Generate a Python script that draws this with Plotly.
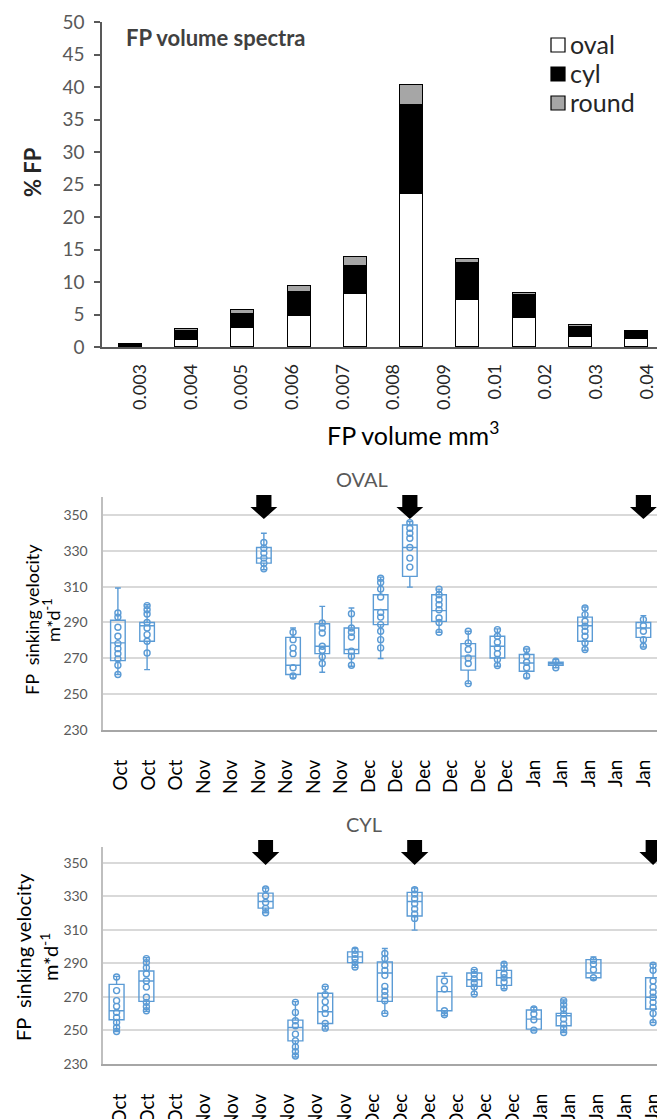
import numpy as np
import plotly.graph_objects as go

# The page puts the plot 8px in from the top-left corner, so the figure is
# made 8px smaller and every target pixel position is shifted by that offset.
OFF = 8
W, H = 665 - OFF, 1119 - OFF
FONT = "Lato"
BLUE = "#5b9bd5"

# ---------------- top chart data ----------------
vol_labels = ["0.003", "0.004", "0.005", "0.006", "0.007", "0.008", "0.009",
              "0.01", "0.02", "0.03", "0.04"]
oval_pct = [0.0, 1.1, 2.9, 4.8, 8.1, 23.6, 7.3, 4.5, 1.5, 1.3]
cyl_pct = [0.5, 1.4, 2.2, 3.6, 4.3, 13.7, 5.7, 3.5, 1.6, 1.1]
round_pct = [0.0, 0.2, 0.6, 1.0, 1.5, 3.0, 0.6, 0.3, 0.3, 0.0]
legend_names = ["oval", "cyl", "round"]
legend_colors = ["white", "black", "#a6a6a6"]

# ---------------- box chart data ----------------
month_labels = ["Oct", "Oct", "Oct", "Nov", "Nov", "Nov", "Nov", "Nov", "Nov",
                "Dec", "Dec", "Dec", "Dec", "Dec", "Dec", "Jan", "Jan", "Jan",
                "Jan", "Jan"]
arrow_pos = [5, 10, 18]

oval_pos = [0, 1, 5, 6, 7, 8, 9, 10, 11, 12, 13, 14, 15, 16, 18]
oval_lo = [261, 263.7, 319.4, 259, 262.2, 265.6, 269.9, 309.7, 284.5, 255.9, 265.6, 259.1, 264.7, 274.5, 276.3]
oval_q1 = [268.7, 279.5, 323.1, 261, 272.6, 272.6, 288.8, 315.7, 290.6, 263.4, 270.2, 262.8, 266.1, 279.5, 281.7]
oval_med = [278.6, 288.2, 325.9, 266.1, 276.7, 274.9, 297.1, 331.8, 296.6, 271.2, 276.7, 267.4, 267.1, 288.2, 286.9]
oval_q3 = [291.2, 290, 331.8, 281.7, 289.3, 286.9, 305.5, 344.4, 305.5, 278.2, 282.3, 272.1, 267.8, 293, 290]
oval_hi = [309.2, 299.9, 339.8, 286.9, 299, 298.1, 315.3, 346.3, 308.6, 285.1, 286.4, 275.2, 269.3, 298.6, 293.8]
oval_points = [
    [295.3, 293, 287.3, 282.3, 278.2, 275.4, 272.6, 269.7, 266.1, 261],
    [299.4, 297.1, 294.7, 290, 286.9, 283.2, 279.5, 273],
    [334.6, 331.4, 328.7, 325.9, 323.1, 319.9],
    [284.5, 280.4, 275.8, 272.6, 264.7, 260.1],
    [289.7, 286.9, 284.1, 276.7, 274.5, 270.8, 267.1],
    [294.9, 286.9, 284.5, 281.9, 274, 271.2, 266.1],
    [314.7, 312.3, 308.6, 304.2, 295.6, 293, 288.8, 285.1, 280.4, 275.8],
    [345.7, 342.6, 339.8, 337, 331.8, 325.9, 320.9],
    [308.6, 305.5, 302.7, 299.9, 297.1, 292.5, 290, 284.5],
    [285.1, 278.6, 274.9, 270.2, 267.1, 255.9],
    [286, 282.3, 279, 275.8, 272.6, 269.3, 266],
    [274.9, 271.2, 267.8, 264.7, 260.1],
    [268.4, 264.7],
    [298.1, 294.4, 290.7, 287.9, 285.1, 282.3, 278.6, 274.9],
    [291.6, 288.2, 285.1, 280.4, 276.7],
]

cyl_pos = [0, 1, 5, 6, 7, 8, 9, 10, 11, 12, 13, 14, 15, 16, 18]
cyl_lo = [249.4, 261.4, 320.3, 234.2, 250.8, 287.5, 260.2, 309.9, 258.8, 271.4, 274.9, 249.8, 248.8, 280.3, 254.8]
cyl_q1 = [256.4, 267.4, 323, 243.8, 254.2, 290.5, 267.4, 318.3, 261.8, 276.3, 276.9, 250.8, 252.8, 281.5, 262.8]
cyl_med = [261.8, 279.5, 327, 251.8, 261.2, 293.9, 284.3, 327, 273.2, 280.3, 281.5, 256.8, 258.8, 284.3, 269.8]
cyl_q3 = [277.5, 285.5, 332, 256.2, 272.2, 296.9, 290.9, 332.4, 282.3, 284.3, 285.9, 262.2, 260.2, 292.3, 281.5]
cyl_hi = [282.3, 293.5, 335, 267.2, 276.3, 298.9, 298.9, 335, 284.3, 286.3, 290.3, 263.8, 268.2, 293.9, 289.5]
cyl_points = [
    [281.9, 273.8, 267.8, 264.4, 260.8, 257.8, 254.8, 251.8, 249.4],
    [292.9, 290.5, 287.5, 283.9, 279.5, 275.9, 269.8, 266.8, 264.2, 261.8],
    [334.4, 330.4, 326.4, 322.9, 320.3],
    [266.8, 260.8, 255.8, 252.8, 247.8, 243.8, 240.2, 237.4, 234.8],
    [275.9, 271.4, 267.2, 263.2, 260.2, 254.2, 251.4],
    [297.9, 295.5, 292.9, 290.5, 287.9],
    [295.9, 292.9, 288.9, 285.9, 282.9, 276.3, 273.4, 270.8, 267.8, 260.2],
    [334, 331.4, 328.6, 325.6, 322.5, 319.5, 316.9],
    [279.5, 274.8, 261.8, 259.4],
    [285.9, 283.5, 280.9, 278.3, 275.9, 271.8],
    [289.5, 286.9, 283.9, 281.5, 278.9, 275.5],
    [262.8, 259.8, 256.4, 250.2],
    [267.8, 265.4, 262.8, 259.8, 256.8, 253.8, 251.4, 248.8],
    [291.9, 289.5, 286.3, 281.5],
    [288.9, 285.9, 279.5, 275.9, 272.8, 269.8, 266.8, 263.8, 260.2, 254.8],
]


def px(p):
    return (p - OFF) / W


def py(p):
    return 1 - (p - OFF) / H


fig = go.Figure()

# ---------------- top stacked bars ----------------
bar_x = list(range(len(oval_pct)))
for name, vals, col in zip(legend_names, [oval_pct, cyl_pct, round_pct], legend_colors):
    fig.add_trace(go.Bar(x=bar_x, y=vals, name=name, width=0.41,
                         marker=dict(color=col, line=dict(color="black", width=1.5)),
                         xaxis="x", yaxis="y", hoverinfo="skip", showlegend=False))


# ---------------- box charts ----------------
def add_box(pos, lo, q1, med, q3, hi, pts, xa, ya):
    fig.add_trace(go.Box(x=pos, lowerfence=lo, q1=q1, median=med, q3=q3, upperfence=hi,
                         width=0.5, whiskerwidth=0.4, boxpoints=False,
                         line=dict(color=BLUE, width=1.4), fillcolor="rgba(0,0,0,0)",
                         xaxis=xa, yaxis=ya, showlegend=False, hoverinfo="skip"))
    xs, ys = [], []
    for p, vals in zip(pos, pts):
        xs += [p] * len(vals)
        ys += vals
    fig.add_trace(go.Scatter(x=xs, y=ys, mode="markers",
                             marker=dict(symbol="circle-open", size=6, color=BLUE,
                                         line=dict(width=1.4, color=BLUE)),
                             xaxis=xa, yaxis=ya, showlegend=False, hoverinfo="skip"))


add_box(oval_pos, oval_lo, oval_q1, oval_med, oval_q3, oval_hi, oval_points, "x2", "y2")
add_box(cyl_pos, cyl_lo, cyl_q1, cyl_med, cyl_q3, cyl_hi, cyl_points, "x3", "y3")

# arrows (block arrows above the selected dates)
shapes = []
for xref, top, mid, tip, sw, hw in [("x2", 495, 507, 519, 0.26, 0.46),
                                    ("x3", 840, 852, 865, 0.25, 0.46)]:
    for c in arrow_pos:
        path = (f"M{c - sw},{py(top)} L{c + sw},{py(top)} L{c + sw},{py(mid)} "
                f"L{c + hw},{py(mid)} L{c},{py(tip)} L{c - hw},{py(mid)} "
                f"L{c - sw},{py(mid)} Z")
        shapes.append(dict(type="path", path=path, xref=xref, yref="paper",
                           fillcolor="black", line=dict(width=0), layer="above"))

# legend (square swatches + labels)
annotations = []
for i, (name, col) in enumerate(zip(legend_names, legend_colors)):
    yc = 45 + 29 * i
    shapes.append(dict(type="rect", xref="paper", yref="paper",
                       x0=px(551), x1=px(565), y0=py(yc + 7), y1=py(yc - 7),
                       fillcolor=col, line=dict(color="black", width=1.2)))
    annotations.append(dict(text=name, x=px(568), y=py(yc - 1), xref="paper",
                            yref="paper", xanchor="left", yanchor="middle",
                            showarrow=False,
                            font=dict(size=25, color="#262626", family=FONT)))

vol_tickvals = [0.177 + 0.9 * j for j in range(len(vol_labels))]
month_tickvals = list(np.linspace(0.11, 18.0, len(month_labels)))

box_y = dict(range=[230, 360], tick0=230, dtick=20, showgrid=True, gridcolor="#d9d9d9",
             gridwidth=1.5, showline=True, linecolor="#bfbfbf", linewidth=1.5,
             zeroline=False, ticks="", tickfont=dict(family=FONT, size=14, color="#595959"),
             ticklabelstandoff=11, automargin=False)
box_x = dict(tickmode="array", tickvals=month_tickvals, ticktext=month_labels,
             tickangle=-90, tickfont=dict(family=FONT, size=19, color="black"),
             showgrid=False, zeroline=False, showline=True, linecolor="#a6a6a6",
             linewidth=2, ticks="", ticklabelstandoff=20, automargin=False)


def ann(text, x, y, size, color="black", angle=0):
    return dict(text=text, x=px(x), y=py(y), xref="paper", yref="paper",
                xanchor="center", yanchor="middle", showarrow=False, textangle=angle,
                font=dict(size=size, color=color, family=FONT))


annotations += [
    ann("<b>FP volume spectra</b>", 216, 37, 22, "#404040"),
    ann("<b>% FP</b>", 32, 172, 22, "#262626", -90),
    ann("FP volume mm<sup>3</sup>", 413, 433, 25),
    ann("OVAL", 362, 479, 20, "#595959"),
    ann("CYL", 364, 824, 20, "#595959"),
    ann("FP  sinking velocity", 32, 620, 18, angle=-90),
    ann("m*d<sup>-1</sup>", 52, 620, 18, angle=-90),
    ann("FP  sinking velocity", 23, 957, 20, angle=-90),
    ann("m*d<sup>-1</sup>", 49, 957, 20, angle=-90),
]

fig.update_layout(
    template="none",
    width=W, height=H, margin=dict(l=0, r=0, t=0, b=0, pad=0, autoexpand=False),
    paper_bgcolor="white", plot_bgcolor="white",
    barmode="stack", bargap=0, showlegend=False,
    font=dict(family=FONT),
    xaxis=dict(domain=[px(102), 1.0], range=[-0.5, 9.5], tickmode="array",
               tickvals=vol_tickvals, ticktext=vol_labels, tickangle=-90,
               tickfont=dict(family=FONT, size=18, color="#262626"), ticks="",
               showline=True, linecolor="#595959", linewidth=1.5, showgrid=False,
               zeroline=False, ticklabelstandoff=8, anchor="y", automargin=False),
    yaxis=dict(domain=[py(347), py(22)], range=[0, 50], dtick=5, ticks="outside",
               ticklen=6, tickwidth=1.5, tickcolor="#595959", showline=True,
               linecolor="#595959", linewidth=1.5, showgrid=False, zeroline=False,
               tickfont=dict(family=FONT, size=19, color="#595959"), anchor="x",
               ticklabelstandoff=6, automargin=False),
    xaxis2=dict(domain=[px(103.3), px(658)], range=[-0.5, 18.5], anchor="y2", **box_x),
    yaxis2=dict(domain=[py(730), py(497)], anchor="x2", **box_y),
    xaxis3=dict(domain=[px(103.3), 1.0], range=[-0.446, 18.4], anchor="y3", **box_x),
    yaxis3=dict(domain=[py(1064), py(847)], anchor="x3",
                **{**box_y, "range": [230, 359.5]}),
    shapes=shapes,
    annotations=annotations,
)

fig.write_html("out.html")
